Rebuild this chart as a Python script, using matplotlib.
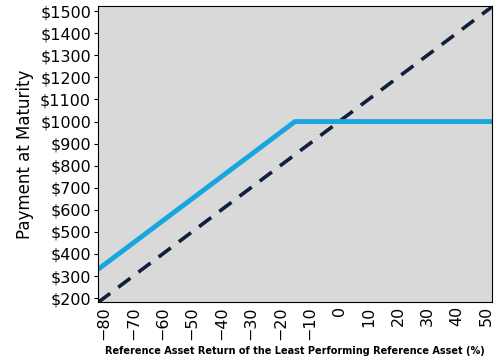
import matplotlib
matplotlib.use("Agg")
import matplotlib.pyplot as plt

# underlying return (%) and payment
x_note = [-82, -15, 52]
y_note = [330, 1000, 1000]
x_ref = [-82, 52]
y_ref = [180, 1520]

xticks = list(range(-80, 51, 10))
yticks = list(range(200, 1501, 100))

fig = plt.figure(figsize=(5, 3.6), dpi=100)
ax = fig.add_axes([0.196, 0.161, 0.788, 0.822])
ax.set_facecolor('#d9d9d9')

ax.plot(x_ref, y_ref, color='#0f1f3d', linewidth=2.6, linestyle=(0, (4.2, 2.8)))
ax.plot(x_note, y_note, color='#18a6e0', linewidth=3.5, solid_capstyle='butt')

ax.set_xlim(-82, 52)
ax.set_ylim(182, 1523)
ax.set_xticks(xticks)
ax.set_xticklabels([str(v).replace('-', '\u2212') for v in xticks], rotation=90, fontsize=11.5)
ax.set_yticks(yticks)
ax.set_yticklabels(['$%d' % v for v in yticks], fontsize=11.5)
ax.tick_params(axis='x', length=0, pad=3)
ax.tick_params(axis='y', length=3, pad=2)

ax.set_ylabel('Payment at Maturity', fontsize=12, labelpad=4)
ax.set_xlabel('Reference Asset Return of the Least Performing Reference Asset (%)',
              fontsize=7, fontweight='bold', labelpad=4)

fig.savefig('out.png', dpi=100)
